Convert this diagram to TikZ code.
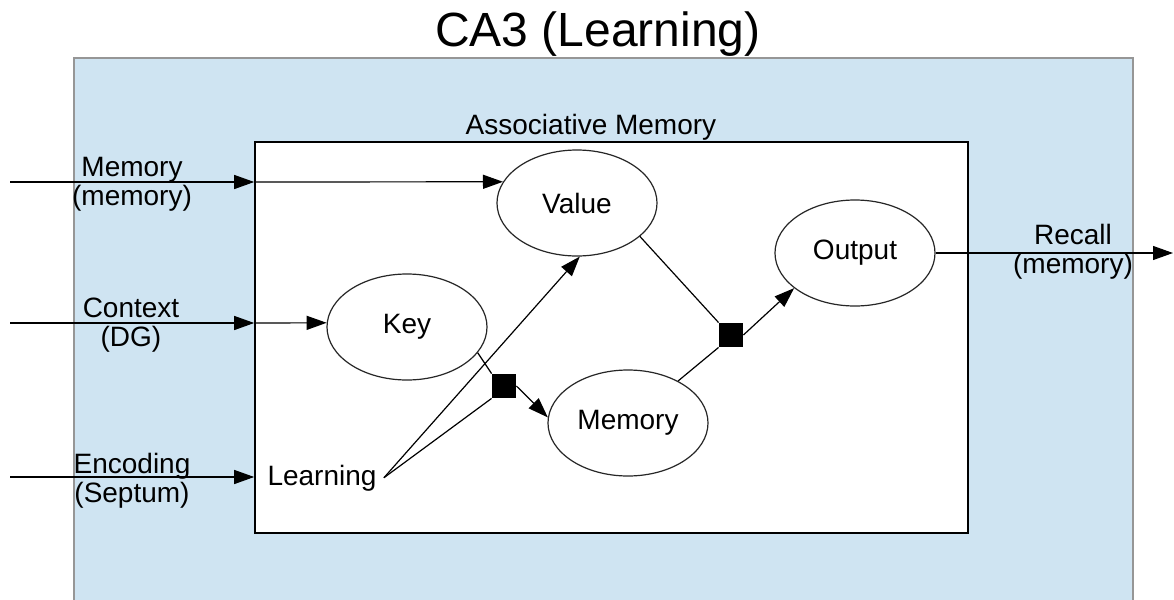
\documentclass[tikz,border=0pt]{standalone}
\usepackage{fontspec}
\setmainfont{Liberation Sans}
\usetikzlibrary{arrows.meta,shapes.geometric}
\definecolor{caBlue}{RGB}{207,228,242}
\definecolor{caEdge}{RGB}{150,150,150}
\begin{document}
\begin{tikzpicture}[x=0.5pt,y=-0.5pt,
  lbl/.style={font=\fontsize{14}{14.5}\selectfont, align=center, inner sep=0pt},
  unit/.style={ellipse, draw=black!85, line width=0.6pt, fill=white,
    minimum width=80pt, minimum height=53pt, inner sep=0pt,
    font=\fontsize{14}{16}\selectfont},
  gate/.style={rectangle, fill=black, minimum size=12pt, inner sep=0pt},
  wire/.style={line width=0.6pt},
  flow/.style={wire, -{Triangle[length=10pt,width=7pt]}}]

\clip (0,0) rectangle (1174,600);

% region frame and title
\node[draw=caEdge, line width=1pt, fill=caBlue, minimum width=529.5pt,
  minimum height=281pt, inner sep=0pt] (outer) at (603.5,339) {};
\node[font=\fontsize{24}{28}\selectfont, anchor=base, inner sep=0pt] (title) at (598,46) {CA3 (Learning)};

% associative memory block
\node[draw, fill=white, line width=0.8pt, minimum width=356.5pt,
  minimum height=195.5pt, inner sep=0pt] (inner) at (611.5,337.5) {};
\node[lbl, anchor=base] (amlabel) at (591,134) {Associative Memory};

% units
\node[unit] (value) at (577,203) {Value};
\node[unit] (key) at (407,327) {Key};
\node[unit] (memory) at (628,423) {Memory};
\node[unit] (output) at (855,253) {Output};
\node[gate] (sq1) at (504,386) {};
\node[gate] (sq2) at (731,335) {};
\node[font=\fontsize{14}{16}\selectfont, anchor=base, inner sep=3.5pt] (learning) at (322,485) {Learning};

% external inputs
\coordinate (inMem) at (10,182);
\coordinate (inCtx) at (10,323);
\coordinate (inEnc) at (10,477);
\coordinate (outEnd) at (1173,251);

\draw[flow] (inMem) -- (inMem -| inner.west);
\draw[flow] (inMem -| inner.west) -- (value.164);
\draw[flow] (inCtx) -- (inCtx -| inner.west);
\draw[flow] (inCtx -| inner.west) -- (key.177);
\draw[flow] (inEnc) -- (inEnc -| inner.west);

% learning signal
\draw[flow] (learning.east) -- (value.273);
\draw[wire] (learning.east) -- (sq1.south west);

% internal pathways
\draw[wire] (key.-20) -- (sq1.north west);
\draw[flow] (sq1.east) -- (memory.176);
\draw[wire] (value.-28) -- (sq2.north west);
\draw[wire] (memory.40) -- (sq2.south west);
\draw[flow] (sq2.east) -- (output.210);
\draw[flow] (output.east) -- (output.east -| outEnd);

% port labels (anchored on the baseline of their second line)
\node[lbl, anchor=base] (lblMem) at (132,205) {Memory\\(memory)};
\node[lbl, anchor=base] (lblCtx) at (131,346) {Context\\(DG)};
\node[lbl, anchor=base] (lblEnc) at (132,502) {Encoding\\(Septum)};
\node[lbl, anchor=base] (lblRec) at (1073,273) {Recall\\(memory)};
\end{tikzpicture}
\end{document}
